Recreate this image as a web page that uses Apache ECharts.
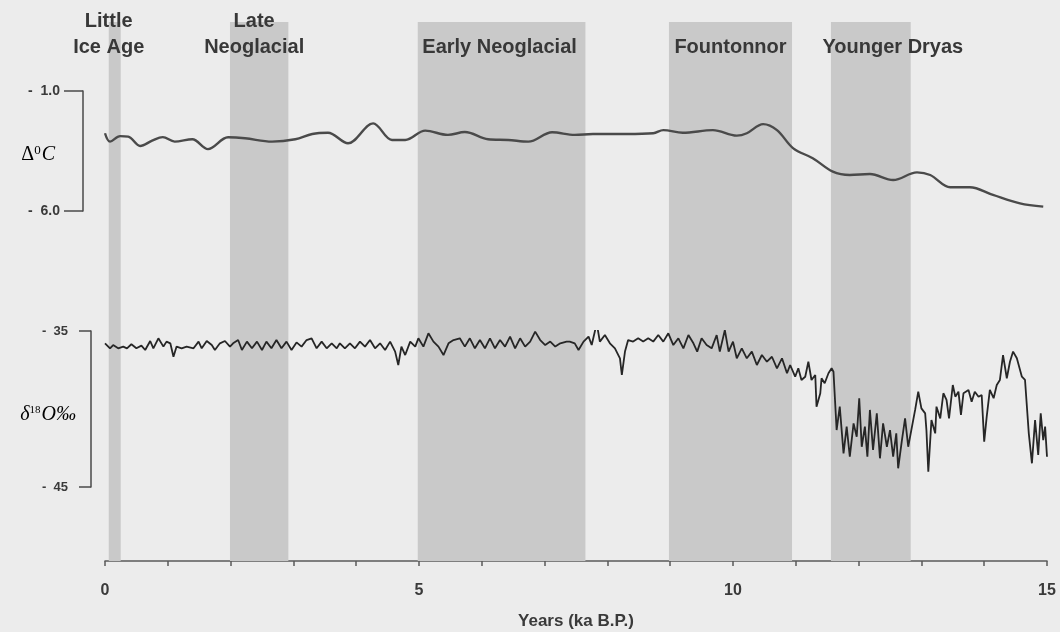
<!DOCTYPE html>
<html>
<head>
<meta charset="utf-8">
<title>Holocene temperature and d18O record</title>
<script src="https://cdn.jsdelivr.net/npm/echarts@6/dist/echarts.min.js"></script>
<style>
  html, body { margin: 0; padding: 0; background: #ececec; }
  #chart { width: 1060px; height: 632px; }
</style>
</head>
<body>
<div id="chart"></div>
<script>
// climate periods (ka B.P.)
const bandNames = ['Little\nIce Age', 'Late\nNeoglacial', 'Early Neoglacial', 'Fountonnor', 'Younger Dryas']
const bandStart = [0.06, 1.99, 4.98, 8.98, 11.56]
const bandEnd = [0.25, 2.92, 7.65, 10.94, 12.83]

const xTickLabels = [0, 5, 10, 15]
const tempTicks = [-1.0, -6.0]
const isoTicks = [-35, -45]

// temperature anomaly, deg C
const tempYears = [0.0, 0.08, 0.24, 0.37, 0.56, 0.75, 0.92, 1.11, 1.39, 1.64, 1.96, 2.23, 2.66, 3.03, 3.30, 3.55, 3.87, 4.27, 4.57, 4.78,
  5.10, 5.46, 5.73, 6.10, 6.42, 6.74, 7.12, 7.48, 7.77, 8.31, 8.73, 8.89, 9.20, 9.68, 10.06, 10.22, 10.48, 10.70, 10.96, 11.27,
  11.59, 11.86, 12.18, 12.55, 12.93, 13.14, 13.46, 13.77, 14.14, 14.57, 14.94]
const tempValues = [-2.76, -3.11, -2.88, -2.90, -3.29, -3.07, -2.92, -3.11, -3.01, -3.42, -2.93, -2.97, -3.11, -3.01, -2.79, -2.74, -3.18, -2.35, -3.04, -3.04,
  -2.65, -2.83, -2.71, -3.01, -3.04, -3.11, -2.72, -2.83, -2.79, -2.79, -2.76, -2.63, -2.74, -2.63, -2.86, -2.76, -2.38, -2.63, -3.39, -3.80,
  -4.36, -4.50, -4.46, -4.71, -4.39, -4.50, -5.01, -5.01, -5.33, -5.68, -5.82]

// d18O per mil, [ka, value]
const isoRecord = [
  [0.00, -35.79], [0.08, -36.11], [0.13, -35.90], [0.21, -36.11], [0.29, -36.00], [0.35, -36.11], [0.42, -35.85], [0.50, -36.11],
  [0.58, -35.94], [0.64, -36.22], [0.72, -35.64], [0.77, -36.11], [0.85, -35.47], [0.93, -36.00], [0.98, -35.68], [1.04, -35.79],
  [1.09, -36.65], [1.14, -36.00], [1.22, -36.11], [1.30, -36.00], [1.41, -36.11], [1.49, -35.68], [1.54, -36.11], [1.62, -35.64],
  [1.70, -35.90], [1.75, -36.22], [1.83, -35.79], [1.91, -35.64], [1.99, -36.00], [2.04, -35.79], [2.12, -35.58], [2.18, -36.22],
  [2.26, -35.68], [2.34, -36.11], [2.42, -35.68], [2.50, -36.22], [2.57, -35.68], [2.65, -36.11], [2.73, -35.58], [2.81, -36.11],
  [2.89, -35.68], [2.97, -36.22], [3.05, -35.73], [3.13, -36.00], [3.21, -35.58], [3.29, -35.47], [3.37, -36.11], [3.45, -35.68],
  [3.53, -36.11], [3.61, -35.79], [3.69, -36.11], [3.74, -35.79], [3.82, -36.11], [3.90, -35.79], [3.98, -36.11], [4.06, -35.68],
  [4.14, -36.00], [4.22, -35.58], [4.30, -36.11], [4.38, -35.79], [4.46, -36.22], [4.54, -35.68], [4.62, -36.32], [4.67, -37.18],
  [4.72, -36.00], [4.78, -36.54], [4.86, -35.68], [4.94, -36.00], [4.99, -35.47], [5.07, -36.00], [5.15, -35.15], [5.23, -35.68],
  [5.31, -36.00], [5.39, -36.54], [5.47, -35.79], [5.55, -35.58], [5.65, -35.47], [5.73, -36.00], [5.81, -35.47], [5.89, -36.11],
  [5.97, -35.58], [6.05, -36.11], [6.13, -35.47], [6.21, -36.11], [6.29, -35.58], [6.37, -36.00], [6.45, -35.36], [6.53, -36.11],
  [6.61, -35.47], [6.69, -36.00], [6.77, -35.68], [6.85, -35.04], [6.93, -35.58], [7.01, -35.90], [7.09, -35.68], [7.17, -36.00],
  [7.25, -35.79], [7.35, -35.68], [7.40, -35.68], [7.48, -35.79], [7.54, -36.22], [7.62, -35.68], [7.70, -35.36], [7.75, -35.90],
  [7.83, -34.51], [7.88, -35.68], [7.96, -35.26], [8.04, -35.79], [8.12, -36.11], [8.20, -36.75], [8.23, -37.82], [8.28, -36.32],
  [8.33, -35.58], [8.41, -35.68], [8.49, -35.47], [8.57, -35.68], [8.65, -35.47], [8.73, -35.68], [8.81, -35.26], [8.89, -35.68],
  [8.97, -35.15], [9.05, -35.90], [9.13, -35.47], [9.21, -36.11], [9.29, -35.26], [9.37, -35.79], [9.43, -36.32], [9.50, -35.47],
  [9.58, -35.90], [9.66, -36.11], [9.74, -35.26], [9.79, -36.32], [9.87, -34.94], [9.93, -36.32], [10.00, -35.68], [10.06, -36.75],
  [10.14, -36.11], [10.22, -36.75], [10.30, -36.32], [10.38, -37.18], [10.46, -36.54], [10.54, -36.97], [10.62, -36.65], [10.70, -37.39],
  [10.78, -36.75], [10.86, -37.71], [10.91, -37.18], [10.99, -37.93], [11.04, -37.39], [11.09, -38.14], [11.15, -37.93], [11.20, -36.97],
  [11.25, -38.14], [11.31, -37.82], [11.33, -39.85], [11.39, -38.99], [11.41, -38.03], [11.46, -38.35], [11.52, -37.71], [11.57, -37.39],
  [11.60, -37.61], [11.65, -41.35], [11.70, -39.85], [11.76, -42.84], [11.81, -41.13], [11.86, -43.06], [11.92, -40.92], [11.97, -41.78],
  [12.01, -39.31], [12.05, -42.42], [12.10, -41.13], [12.14, -43.06], [12.18, -40.06], [12.23, -42.63], [12.29, -40.28], [12.34, -43.16],
  [12.39, -40.92], [12.45, -42.42], [12.50, -41.35], [12.55, -43.06], [12.60, -41.56], [12.63, -43.80], [12.69, -41.99], [12.74, -40.60],
  [12.79, -42.42], [12.85, -41.13], [12.90, -40.06], [12.95, -38.89], [13.00, -39.96], [13.06, -40.28], [13.08, -41.35], [13.11, -44.02],
  [13.16, -40.71], [13.22, -41.56], [13.24, -39.85], [13.30, -40.60], [13.35, -38.99], [13.40, -39.42], [13.44, -40.60], [13.50, -38.46],
  [13.54, -39.21], [13.59, -38.89], [13.63, -40.38], [13.67, -38.99], [13.75, -38.78], [13.80, -39.53], [13.85, -38.89], [13.91, -39.21],
  [13.96, -39.10], [14.00, -42.09], [14.04, -40.49], [14.09, -38.78], [14.15, -39.31], [14.20, -38.46], [14.25, -38.14], [14.30, -36.54],
  [14.36, -38.03], [14.41, -36.97], [14.46, -36.32], [14.52, -36.75], [14.60, -37.93], [14.65, -38.14], [14.71, -41.56], [14.76, -43.48],
  [14.81, -40.71], [14.86, -42.95], [14.90, -40.28], [14.94, -41.99], [14.97, -41.13], [15.00, -43.06]
]

// label nudges for the period names (px)
const bandLabelShift = [-6, -5, -2, 0, 22]

const ink = '#3a3a3a'
const boldFont = 'Liberation Sans, Arial, sans-serif'
const serifFont = 'Liberation Serif, DejaVu Serif, serif'

const chart = echarts.init(document.getElementById('chart'), null, { renderer: 'canvas' })

const bandAreas = bandNames.map((name, i) => [
  { name: name, xAxis: bandStart[i], label: { offset: [bandLabelShift[i], 0] } },
  { xAxis: bandEnd[i] }
])

const hiddenX = idx => ({
  gridIndex: idx, type: 'value', min: 0, max: 15, show: false
})

// y axis titles sit left of the brackets
const axisTitle = (text, x, y, rich) => ({
  type: 'text', x: x, y: y, silent: true,
  style: { text: text, rich: rich, align: 'right', verticalAlign: 'middle', textAlign: 'right', textVerticalAlign: 'middle' }
})

chart.setOption({
  animation: false,
  backgroundColor: '#ececec',
  grid: [
    { left: 105, right: 13, top: 22, bottom: 71, outerBoundsMode: 'none' },
    { left: 105, right: 13, top: 91, height: 120, outerBoundsMode: 'none' },
    { left: 105, right: 13, top: 331, height: 156, outerBoundsMode: 'none' }
  ],
  graphic: [
    axisTitle('{d|\u0394}{s|0}{c|C}', 55, 155, {
      d: { fontFamily: serifFont, fontSize: 20, color: ink },
      s: { fontFamily: serifFont, fontSize: 13, color: ink, padding: [0, 1, 9, 0] },
      c: { fontFamily: serifFont, fontStyle: 'italic', fontSize: 20, color: ink }
    }),
    axisTitle('{d|\u03b4}{s|18}{c|O\u2030}', 76, 415, {
      d: { fontFamily: serifFont, fontStyle: 'italic', fontSize: 20, color: ink },
      s: { fontFamily: serifFont, fontSize: 11, color: ink, padding: [0, 1, 9, 0] },
      c: { fontFamily: serifFont, fontStyle: 'italic', fontSize: 20, color: ink }
    })
  ],
  xAxis: [
    {
      gridIndex: 0, type: 'value', min: 0, max: 15, interval: 1,
      axisLine: { onZero: false, lineStyle: { color: '#5a5a5a', width: 1.5 } },
      axisTick: { length: 5, lineStyle: { color: '#5a5a5a', width: 1.5 } },
      axisLabel: {
        margin: 22, color: ink, fontSize: 16, fontWeight: 'bold', fontFamily: boldFont,
        formatter: v => (xTickLabels.indexOf(v) >= 0 ? String(v) : '')
      },
      splitLine: { show: false },
      name: 'Years (ka B.P.)', nameLocation: 'middle', nameGap: 52,
      nameTextStyle: { color: ink, fontSize: 17, fontWeight: 'bold', fontFamily: boldFont }
    },
    hiddenX(1),
    hiddenX(2)
  ],
  yAxis: [
    { gridIndex: 0, type: 'value', min: 0, max: 1, show: false },
    {
      gridIndex: 1, type: 'value', min: -6, max: -1, interval: 5, offset: 22,
      axisLine: { show: true, onZero: false, lineStyle: { color: '#4a4a4a', width: 1.5 } },
      axisTick: { show: true, length: 19, lineStyle: { color: '#4a4a4a', width: 1.5 } },
      axisLabel: {
        margin: 23, color: ink, fontSize: 14, fontWeight: 'bold', fontFamily: boldFont,
        formatter: v => (tempTicks.indexOf(v) >= 0 ? '-  ' + Math.abs(v).toFixed(1) : '')
      },
      splitLine: { show: false }
    },
    {
      gridIndex: 2, type: 'value', min: -45, max: -35, interval: 10, offset: 14,
      axisLine: { show: true, onZero: false, lineStyle: { color: '#4a4a4a', width: 1.5 } },
      axisTick: { show: true, length: 12, lineStyle: { color: '#4a4a4a', width: 1.5 } },
      axisLabel: {
        margin: 23, color: ink, fontSize: 13, fontWeight: 'bold', fontFamily: boldFont,
        formatter: v => (isoTicks.indexOf(v) >= 0 ? '-  ' + Math.abs(v) : '')
      },
      splitLine: { show: false }
    }
  ],
  series: [
    {
      name: 'periods', type: 'line', xAxisIndex: 0, yAxisIndex: 0, data: [],
      markArea: {
        silent: true,
        itemStyle: { color: '#c9c9c9' },
        label: {
          show: true, position: ['50%', 38], align: 'center', verticalAlign: 'bottom',
          color: '#383838', fontSize: 20, fontWeight: 'bold', fontFamily: boldFont, lineHeight: 26
        },
        data: bandAreas
      }
    },
    {
      name: 'delta T', type: 'line', xAxisIndex: 1, yAxisIndex: 1,
      data: tempYears.map((t, i) => [t, tempValues[i]]),
      smooth: 0.35, showSymbol: false,
      lineStyle: { color: '#4a4a4a', width: 2.4 }
    },
    {
      name: 'd18O', type: 'line', xAxisIndex: 2, yAxisIndex: 2,
      data: isoRecord, showSymbol: false,
      lineStyle: { color: '#262626', width: 1.8 }
    }
  ]
})
</script>
</body>
</html>
